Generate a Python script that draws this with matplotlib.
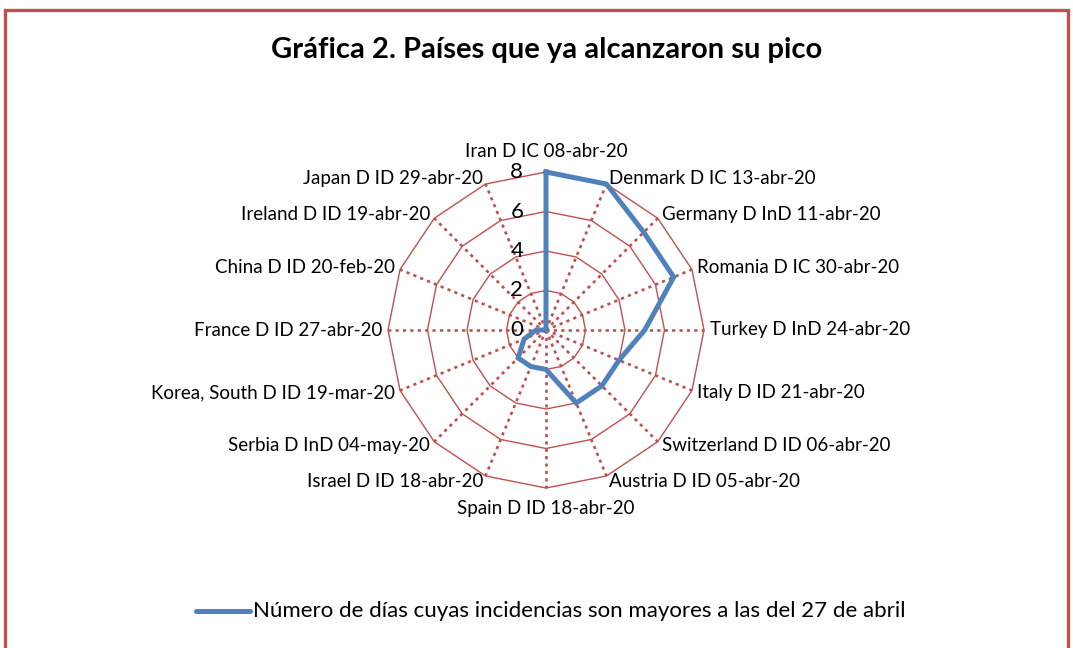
import matplotlib
matplotlib.use("Agg")
import matplotlib.pyplot as plt
import numpy as np
from matplotlib.lines import Line2D
from matplotlib.patches import Rectangle

# data
countries = [
    "Iran D IC 08-abr-20", "Denmark D IC 13-abr-20", "Germany D InD 11-abr-20",
    "Romania D IC 30-abr-20", "Turkey D InD 24-abr-20", "Italy D ID 21-abr-20",
    "Switzerland D ID 06-abr-20", "Austria D ID 05-abr-20", "Spain D ID 18-abr-20",
    "Israel D ID 18-abr-20", "Serbia D InD 04-may-20", "Korea, South D ID 19-mar-20",
    "France D ID 27-abr-20", "China D ID 20-feb-20", "Ireland D ID 19-abr-20",
    "Japan D ID 29-abr-20",
]
days = [8, 8, 7, 7, 5, 4, 4, 4, 2, 2, 2, 1.2, 0.5, 0, 0, 0]
ring_ticks = [0, 2, 4, 6, 8]
series_name = "Número de días cuyas incidencias son mayores a las del 27 de abril"
title = "Gráfica 2. Países que ya alcanzaron su pico"

RED = "#C0504D"
BLUE = "#4F81BD"
FONT = "Lato"

W, H = 1073, 648
CX, CY = 546, 330      # chart centre in pixels
PX_PER_UNIT = 19.75

fig = plt.figure(figsize=(W / 100, H / 100), dpi=100)
ax = fig.add_axes([0, 0, 1, 1])
ax.set_xlim(-CX / PX_PER_UNIT, (W - CX) / PX_PER_UNIT)
ax.set_ylim(-(H - CY) / PX_PER_UNIT, CY / PX_PER_UNIT)
ax.axis("off")

n = len(countries)
theta = np.pi / 2 - 2 * np.pi * np.arange(n) / n   # clockwise from top
ux, uy = np.cos(theta), np.sin(theta)
rmax = max(ring_ticks)

# polygon rings
for r in ring_ticks[1:]:
    ax.plot(np.append(ux, ux[0]) * r, np.append(uy, uy[0]) * r,
            color=RED, lw=1.0, zorder=1)
# dotted spokes
for x, y in zip(ux, uy):
    ax.plot([0, x * rmax], [0, y * rmax], color=RED, lw=1.9,
            linestyle=(0, (1.2, 1.6)), zorder=1)

# series
vals = np.array(days)
ax.plot(np.append(ux * vals, ux[0] * vals[0]), np.append(uy * vals, uy[0] * vals[0]),
        color=BLUE, lw=3.6, solid_joinstyle="miter", zorder=3)

# radial tick labels
for r in ring_ticks:
    ax.text(-1.15, r, str(r), ha="right", va="center", fontsize=16,
            family=FONT, color="black", zorder=4)

# category labels
rl = rmax + 0.3
for name, x, y in zip(countries, ux, uy):
    if abs(x) < 1e-6:
        ax.text(0, y * (rmax + 0.6), name, ha="center",
                va="bottom" if y > 0 else "top", fontsize=13.5, family=FONT)
    else:
        ax.text(x * rl, y * rl, name, ha="left" if x > 0 else "right",
                va="center", fontsize=13.5, family=FONT)

# title
fig.text(547 / W, 1 - 50 / H, title, ha="center", va="center",
         fontsize=21, fontweight="bold", family=FONT)

# legend
fig.add_artist(Line2D([196 / W, 250 / W], [1 - 611 / H, 1 - 611 / H],
                      color=BLUE, lw=3.6, solid_capstyle="round"))
fig.text(253 / W, 1 - 611 / H, series_name, ha="left", va="center",
         fontsize=16, family=FONT)

# outer frame
fig.add_artist(Rectangle((5 / W, -0.05), (1068 - 5) / W, 1.05 - 10 / H,
                         transform=fig.transFigure, fill=False,
                         edgecolor=RED, lw=2.4))

fig.savefig("out.png", dpi=100)
